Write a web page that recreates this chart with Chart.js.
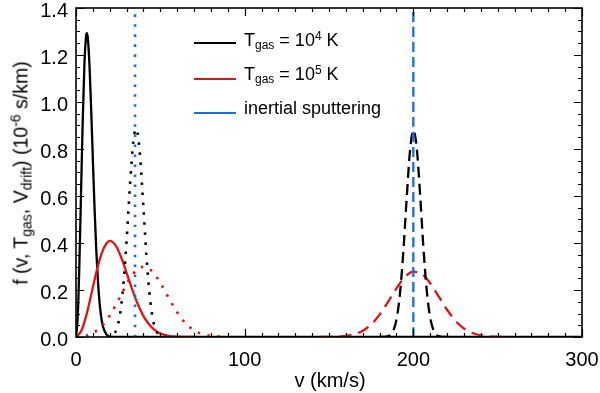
<!DOCTYPE html>
<html>
<head>
<meta charset="utf-8">
<script src="https://cdn.jsdelivr.net/npm/chart.js@4.4.1/dist/chart.umd.min.js"></script>
<style>
  html, body { margin: 0; padding: 0; background: #fff; }
  #wrap { position: relative; width: 600px; height: 393px; font-family: 'Liberation Sans', Arial, Helvetica, sans-serif; color: #000; }
  #c { position: absolute; left: 0; top: 0; }
  .txt { position: absolute; white-space: nowrap; font-size: 18px; line-height: 18px; }
  .sub, .sup { font-size: 12px; line-height: 0; position: relative; vertical-align: baseline; }
  .sub { top: 3px; }
  .sup { top: -6px; }
  .key { position: absolute; left: 194px; width: 42px; height: 0; border-top: 2px solid; }
  #ytitle { position: absolute; left: 21px; top: 173px; font-size: 19.5px; line-height: 23px; white-space: nowrap; transform: translate(-50%, -50%) rotate(-90deg); }
  #ytitle .sub, #ytitle .sup { font-size: 14px; }
  #ytitle .sub { top: 4px; }
  #ytitle .sup { top: -7px; }
  #xtitle { position: absolute; left: 330px; top: 369px; font-size: 20px; line-height: 23px; transform: translateX(-50%); white-space: nowrap; }
</style>
</head>
<body>
<div id="wrap">
  <canvas id="c" width="600" height="393"></canvas>
  <div class="key" style="top:42px;border-color:#000"></div>
  <div class="key" style="top:78px;border-color:#e01414"></div>
  <div class="key" style="top:112px;border-color:#1e6ed8"></div>
  <div class="txt" style="left:244px;top:31px">T<span class="sub">gas</span> = 10<span class="sup">4</span> K</div>
  <div class="txt" style="left:244px;top:65px">T<span class="sub">gas</span> = 10<span class="sup">5</span> K</div>
  <div class="txt" style="left:244px;top:99px">inertial sputtering</div>
  <div id="ytitle">f (v, T<span class="sub">gas</span>, V<span class="sub">drift</span>) (10<span class="sup">-6</span> s/km)</div>
  <div id="xtitle">v (km/s)</div>
</div>
<script>
// axis ticks
const X_TICKS = [0, 100, 200, 300];
const Y_TICKS = [0, 0.2, 0.4, 0.6, 0.8, 1.0, 1.2, 1.4];

// grain at rest, T = 1e4 K (black solid)
const vRest4 = [0, 1, 2, 3, 4, 5, 6, 6.4, 7, 8, 9, 10, 11, 12, 13, 14, 15, 16, 18, 20, 25, 300];
const fRest4 = [0, 0.083, 0.310, 0.617, 0.925, 1.162, 1.282, 1.293, 1.273, 1.155, 0.968, 0.754, 0.548, 0.373, 0.239, 0.144, 0.082, 0.044, 0.011, 0.002, 0, 0];

// grain at rest, T = 1e5 K (red solid)
const vRest5 = [0, 3, 6, 9, 12, 15, 18, 20.3, 21, 24, 27, 30, 33, 36, 40, 44, 48, 52, 56, 60, 65, 70];
const fRest5 = [0, 0.024, 0.089, 0.180, 0.274, 0.352, 0.398, 0.409, 0.408, 0.384, 0.335, 0.273, 0.209, 0.151, 0.089, 0.048, 0.023, 0.010, 0.004, 0.002, 0, 0];

// drift 35 km/s (dotted)
const vSlow4 = [18, 20, 22, 24, 26, 28, 30, 32, 34, 35, 35.6, 36, 37, 38, 40, 42, 44, 46, 48, 50, 52, 55];
const fSlow4 = [0, 0.002, 0.009, 0.032, 0.092, 0.214, 0.411, 0.646, 0.833, 0.879, 0.886, 0.882, 0.843, 0.767, 0.548, 0.321, 0.155, 0.061, 0.020, 0.005, 0.001, 0];
const vSlow5 = [0, 4, 8, 12, 16, 20, 24, 28, 32, 36, 40, 44, 48, 52, 56, 60, 65, 70, 75, 80, 85, 90];
const fSlow5 = [0, 0.002, 0.010, 0.026, 0.053, 0.092, 0.142, 0.197, 0.249, 0.285, 0.299, 0.287, 0.253, 0.205, 0.153, 0.105, 0.058, 0.028, 0.012, 0.005, 0.002, 0];

// drift 200 km/s (dashed)
const vFast4 = [180, 184, 186, 188, 190, 192, 194, 196, 198, 200, 202, 204, 206, 208, 210, 212, 214, 216, 220];
const fFast4 = [0, 0.002, 0.007, 0.025, 0.074, 0.179, 0.356, 0.584, 0.790, 0.879, 0.806, 0.608, 0.378, 0.194, 0.082, 0.028, 0.008, 0.002, 0];
const vFast5 = [145, 150, 155, 160, 165, 170, 175, 180, 185, 190, 195, 200, 205, 210, 215, 220, 225, 230, 235, 240, 245, 250, 255];
const fFast5 = [0, 0.0005, 0.002, 0.005, 0.012, 0.027, 0.053, 0.095, 0.149, 0.207, 0.255, 0.278, 0.268, 0.229, 0.173, 0.116, 0.069, 0.036, 0.017, 0.007, 0.0025, 0.0008, 0];

// inertial sputtering thresholds (blue)
const vSputter = [35, 200];

const BLACK = '#000000';
const RED = '#e01414';
const BLUE = '#1e6ed8';

const pts = (xs, ys) => xs.map((x, i) => ({ x, y: ys[i] }));
const vline = v => [{ x: v, y: 0 }, { x: v, y: 1.4 }];

function curve(data, color, dash) {
  return {
    data,
    borderColor: color,
    borderWidth: dash && dash[0] < 4 ? 2.6 : 2.3,
    borderDash: dash || [],
    borderCapStyle: 'butt',
    cubicInterpolationMode: 'monotone',
    pointRadius: 0,
    fill: false
  };
}

const frameTicks = {
  id: 'frameTicks',
  afterDatasetsDraw(chart) {
    const { ctx, chartArea: a, scales: { x, y } } = chart;
    ctx.save();
    ctx.strokeStyle = '#000';
    ctx.lineWidth = 1.2;
    ctx.beginPath();
    for (let i = 0; i <= 30; i++) {
      const px = Math.round(x.getPixelForValue(i * 10)) + 0.5;
      const len = i % 10 === 0 ? 8 : 4;
      ctx.moveTo(px, a.bottom); ctx.lineTo(px, a.bottom - len);
      ctx.moveTo(px, a.top); ctx.lineTo(px, a.top + len);
    }
    for (let i = 0; i <= 28; i++) {
      const py = Math.round(y.getPixelForValue(i * 0.05)) + 0.5;
      const len = i % 4 === 0 ? 8 : 4;
      ctx.moveTo(a.left, py); ctx.lineTo(a.left + len, py);
      ctx.moveTo(a.right, py); ctx.lineTo(a.right - len, py);
    }
    ctx.stroke();
    ctx.lineWidth = 1.6;
    ctx.strokeRect(a.left, a.top, a.right - a.left, a.bottom - a.top);
    ctx.restore();
  }
};

new Chart(document.getElementById('c'), {
  type: 'line',
  data: {
    datasets: [
      curve(vline(vSputter[0]), BLUE, [2.5, 7.5]),
      curve(vline(vSputter[1]), BLUE, [10, 5]),
      curve(pts(vSlow4, fSlow4), BLACK, [2.5, 7.5]),
      curve(pts(vSlow5, fSlow5), RED, [2.5, 7.5]),
      curve(pts(vFast4, fFast4), BLACK, [11, 6]),
      curve(pts(vFast5, fFast5), RED, [12, 7]),
      curve(pts(vRest5, fRest5), RED),
      curve(pts(vRest4, fRest4), BLACK)
    ]
  },
  options: {
    responsive: false,
    animation: false,
    layout: { padding: { left: 0, right: 18, top: 8, bottom: 0 } },
    plugins: { legend: { display: false }, tooltip: { enabled: false } },
    scales: {
      x: {
        type: 'linear', min: 0, max: 300,
        grid: { display: false, drawTicks: false },
        border: { display: false },
        afterBuildTicks: s => { s.ticks = X_TICKS.map(v => ({ value: v })); },
        afterFit: s => { s.height = 56; s.paddingLeft = 0; s.paddingRight = 0; },
        ticks: { color: '#000', padding: 11, maxRotation: 0, font: { family: "'Liberation Sans', Arial, sans-serif", size: 20 }, callback: v => String(v) }
      },
      y: {
        type: 'linear', min: 0, max: 1.4,
        grid: { display: false, drawTicks: false },
        border: { display: false },
        afterBuildTicks: s => { s.ticks = Y_TICKS.map(v => ({ value: v })); },
        afterFit: s => { s.width = 76; s.paddingTop = 0; s.paddingBottom = 0; },
        ticks: { color: '#000', padding: 8, labelOffset: 3, font: { family: "'Liberation Sans', Arial, sans-serif", size: 20 }, callback: v => v.toFixed(1) }
      }
    }
  },
  plugins: [frameTicks]
});
</script>
</body>
</html>
